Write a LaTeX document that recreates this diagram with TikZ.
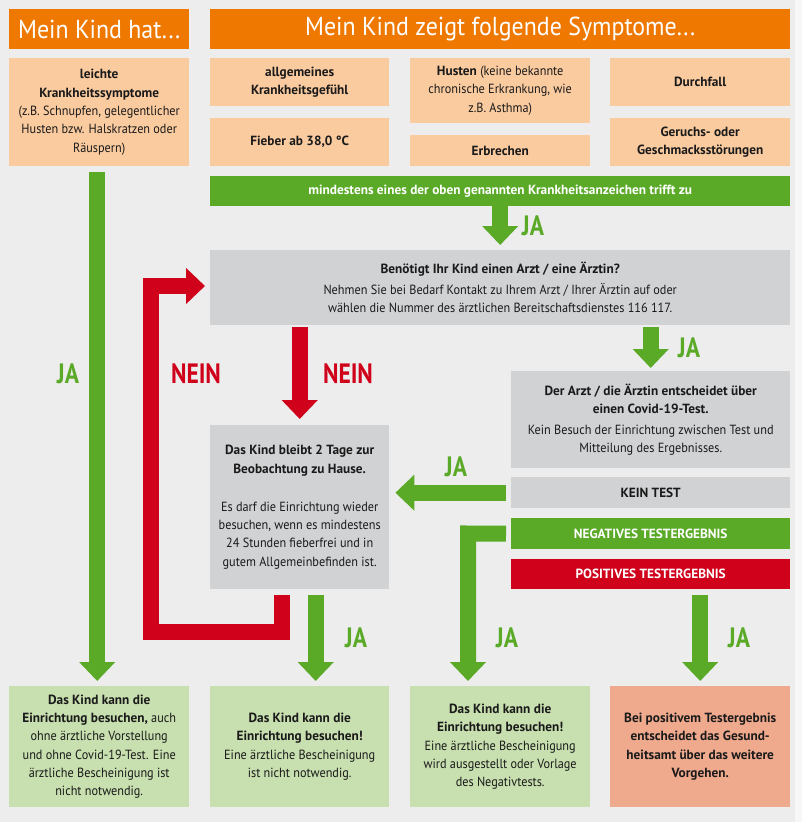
\documentclass[tikz,border=0pt]{standalone}
\usepackage{fontspec}
\setmainfont{PT Sans}[FakeStretch=0.92, BoldFeatures={FakeStretch=1.0}]
\newfontfamily\lblfont{PT Sans}[FakeStretch=0.84]
\usetikzlibrary{arrows.meta}
\definecolor{bgc}{HTML}{ECEDEC}
\definecolor{orng}{HTML}{EE7800}
\definecolor{peach}{HTML}{FBCBA0}
\definecolor{grn}{HTML}{5AAA28}
\definecolor{rd}{HTML}{D0021B}
\definecolor{gry}{HTML}{D1D2D4}
\definecolor{lgrn}{HTML}{C8DFAF}
\definecolor{salm}{HTML}{EFA98D}
\definecolor{txt}{HTML}{1A1A1A}
\tikzset{
  box/.style={anchor=north west, inner sep=0pt, align=center, text=txt,
    font=\fontsize{13.3}{18.3}\selectfont},
  peachbox/.style={box, fill=peach},
  graybox/.style={box, fill=gry},
  lgbox/.style={box, fill=lgrn},
  header/.style={box, fill=orng, text=white, font=\fontsize{26}{28}\selectfont},
  barbox/.style={box, text=white, font=\bfseries\fontsize{13.3}{15}\selectfont},
  blockarrow/.style={line width=16pt, -{Triangle[width=35pt,length=19pt]}},
  garrow/.style={blockarrow, draw=grn},
  rarrow/.style={blockarrow, draw=rd},
  lbl/.style={inner sep=0pt, font=\lblfont\bfseries\fontsize{28}{28}\selectfont},
}
\begin{document}
\begin{tikzpicture}[x=1pt,y=-1pt]
\useasboundingbox (0,0) rectangle (802,822);
\fill[bgc] (0,0) rectangle (802,822);
\fill[white!55!bgc] (795,0) rectangle (802,822);

% headers
\node[header, minimum width=180pt, minimum height=40pt] (h1) at (9,9) {Mein Kind hat...};
\node[header, minimum width=580pt, minimum height=40pt] (h2) at (210,9) {Mein Kind zeigt folgende Symptome...};

% symptom boxes
\node[peachbox, minimum width=180pt, minimum height=108pt] (s0) at (9,58)
  {\textbf{leichte}\\\textbf{Krankheitssymptome}\\(z.B. Schnupfen, gelegentlicher\\Husten bzw. Halskratzen oder\\Räuspern)};
\node[peachbox, minimum width=179pt, minimum height=48pt] (s1) at (210,58)
  {\textbf{allgemeines}\\\textbf{Krankheitsgefühl}};
\node[peachbox, minimum width=179pt, minimum height=48pt] (s2) at (210,118)
  {\textbf{Fieber ab 38,0 °C}};
\node[peachbox, minimum width=180pt, minimum height=65pt] (s3) at (410,58)
  {\textbf{Husten} (keine bekannte\\chronische Erkrankung, wie\\z.B. Asthma)};
\node[peachbox, minimum width=180pt, minimum height=31pt] (s4) at (410,135)
  {\textbf{Erbrechen}};
\node[peachbox, minimum width=180pt, minimum height=48pt] (s5) at (610,58)
  {\textbf{Durchfall}};
\node[peachbox, minimum width=180pt, minimum height=48pt] (s6) at (610,118)
  {\textbf{Geruchs- oder}\\\textbf{Geschmacksstörungen}};

% green bar
\node[barbox, fill=grn, minimum width=580pt, minimum height=30pt] (g1) at (210,176)
  {mindestens eines der oben genannten Krankheitsanzeichen trifft zu};

% question box
\node[graybox, minimum width=580pt, minimum height=75pt] (q1) at (210,250)
  {\textbf{Benötigt Ihr Kind einen Arzt / eine Ärztin?}\\[2.5pt]Nehmen Sie bei Bedarf Kontakt zu Ihrem Arzt / Ihrer Ärztin auf oder\\wählen die Nummer des ärztlichen Bereitschaftsdienstes 116 117.};

% stay at home
\node[graybox, minimum width=179pt, minimum height=164pt] (stay) at (210,425)
  {\textbf{Das Kind bleibt 2 Tage zur}\\\textbf{Beobachtung zu Hause.}\\[20pt]Es darf die Einrichtung wieder\\besuchen, wenn es mindestens\\24 Stunden fieberfrei und in\\gutem Allgemeinbefinden ist.};

% doctor
\node[graybox, minimum width=279pt, minimum height=97pt] (doc) at (511,371)
  {\textbf{Der Arzt / die Ärztin entscheidet über}\\\textbf{einen Covid-19-Test.}\\[3pt]Kein Besuch der Einrichtung zwischen Test und\\Mitteilung des Ergebnisses.};
\node[graybox, minimum width=279pt, minimum height=31pt, font=\bfseries\fontsize{13.3}{15}\selectfont] (kein) at (511,477) {KEIN TEST};
\node[barbox, fill=grn, minimum width=279pt, minimum height=31pt] (neg) at (511,518) {NEGATIVES TESTERGEBNIS};
\node[barbox, fill=rd, minimum width=279pt, minimum height=30pt] (pos) at (511,559) {POSITIVES TESTERGEBNIS};

% outcome boxes
\node[lgbox, minimum width=180pt, minimum height=121pt] (b1) at (9,686)
  {\textbf{Das Kind kann die}\\\textbf{Einrichtung besuchen,} auch\\ohne ärztliche Vorstellung\\und ohne Covid-19-Test. Eine\\ärztliche Bescheinigung ist\\nicht notwendig.};
\node[lgbox, minimum width=179pt, minimum height=121pt] (b2) at (210,686)
  {\textbf{Das Kind kann die}\\\textbf{Einrichtung besuchen!}\\Eine ärztliche Bescheinigung\\ist nicht notwendig.};
\node[lgbox, minimum width=180pt, minimum height=121pt] (b3) at (410,686)
  {\textbf{Das Kind kann die}\\\textbf{Einrichtung besuchen!}\\Eine ärztliche Bescheinigung\\wird ausgestellt oder Vorlage\\des Negativtests.};
\node[box, fill=salm, minimum width=180pt, minimum height=121pt] (b4) at (610,686)
  {\textbf{Bei positivem Testergebnis}\\\textbf{entscheidet das Gesund-}\\\textbf{heitsamt über das weitere}\\\textbf{Vorgehen.}};

% connectors
\coordinate (rb) at (151,631.5);
\coordinate (rt) at (151,286);
\coordinate (nc) at (468,533.5);

\draw[garrow, shorten <=6pt, shorten >=5pt] ([xshift=-2pt]s0.south) -- ([xshift=-2pt]b1.north);
\draw[garrow, shorten >=5pt] (g1.south) -- (q1.north);
\draw[garrow, shorten <=2pt, shorten >=3pt] (doc.north |- q1.south) -- (doc.north);
\draw[rarrow, shorten <=2pt, shorten >=6pt] (stay.north |- q1.south) -- (stay.north);
\draw[rarrow, shorten <=6pt, shorten >=5pt] ([xshift=-17.5pt]stay.south) |- (rb) -- (rt) -- (q1.west |- rt);
\draw[garrow, shorten <=6pt, shorten >=5pt] ([xshift=16pt]stay.south) -- ([xshift=16pt]b2.north);
\draw[garrow, shorten <=5pt, shorten >=6pt] (kein.west) -- (stay.east |- kein.west);
\draw[garrow, shorten <=5pt, shorten >=5pt] (neg.west) -- (nc) -- (nc |- b3.north);
\draw[garrow, shorten <=6pt, shorten >=5pt] (b4.north |- pos.south) -- (b4.north);

% labels
\node[lbl, text=grn] (l1) at (68,374) {JA};
\node[lbl, text=rd] (l2) at (196,374) {NEIN};
\node[lbl, text=rd] (l3) at (348,374) {NEIN};
\node[lbl, text=grn] (l4) at (533,226) {JA};
\node[lbl, text=grn] (l5) at (689,348) {JA};
\node[lbl, text=grn] (l6) at (456,467) {JA};
\node[lbl, text=grn] (l7) at (356,638) {JA};
\node[lbl, text=grn] (l8) at (507,638) {JA};
\node[lbl, text=grn] (l9) at (739,638) {JA};
\end{tikzpicture}
\end{document}
